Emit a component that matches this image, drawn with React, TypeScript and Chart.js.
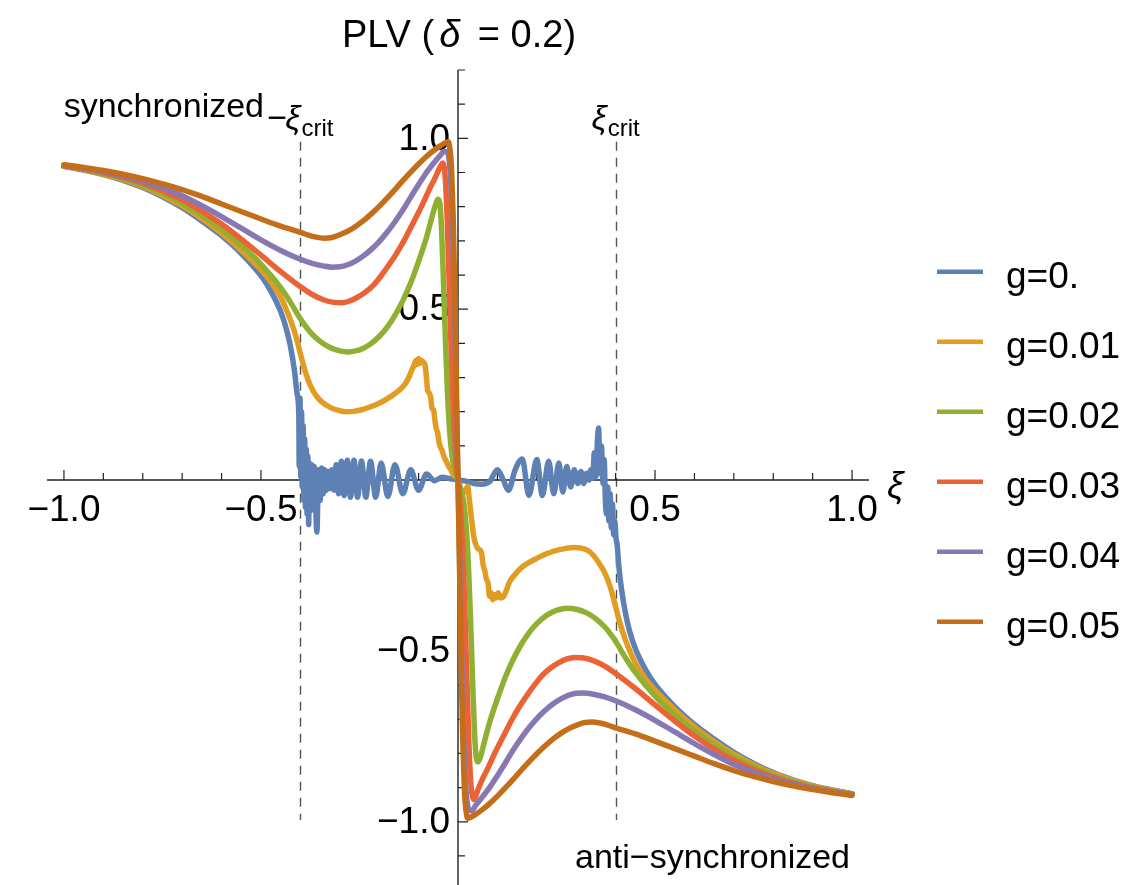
import React, { useEffect, useRef } from "react";
import { Chart, registerables } from "chart.js";

Chart.register(...registerables);

// ---------- data ----------
const seriesLabels = ["g=0.", "g=0.01", "g=0.02", "g=0.03", "g=0.04", "g=0.05"];
const seriesColors = ["#5E81B5", "#E19C24", "#8FB032", "#EB6235", "#8778B3", "#C56E1A"];

const g000Points: number[][] = [
  [-1.0, 0.918], [-0.95, 0.907], [-0.9, 0.894], [-0.85, 0.877], [-0.8, 0.856], [-0.75, 0.829],
  [-0.7, 0.797], [-0.65, 0.758], [-0.6, 0.715], [-0.55, 0.663], [-0.5, 0.598], [-0.475, 0.553],
  [-0.45, 0.493], [-0.435, 0.44], [-0.425, 0.39], [-0.415, 0.32], [-0.408, 0.25], [-0.404, 0.19],
  [-0.403, 0.04], [-0.401, 0.24], [-0.399, 0.01], [-0.397, 0.2],
  [-0.395, -0.02], [-0.393, 0.16], [-0.391, -0.06], [-0.389, 0.12], [-0.387, -0.08], [-0.385, 0.09],
  [-0.383, -0.1], [-0.381, 0.07], [-0.379, -0.13], [-0.377, 0.05], [-0.374, -0.09], [-0.371, 0.045],
  [-0.368, -0.06], [-0.365, 0.04], [-0.362, -0.05], [-0.358, -0.152], [-0.354, 0.03], [-0.35, -0.06],
  [-0.346, 0.035], [-0.342, -0.04], [-0.338, 0.03], [-0.334, -0.03], [-0.33, 0.025], [-0.325, -0.025],
  [-0.32, 0.03], [-0.315, -0.03], [-0.309, 0.045], [-0.303, -0.04], [-0.296, 0.055], [-0.289, -0.045],
  [-0.281, 0.058], [-0.273, -0.05], [-0.264, 0.058], [-0.255, -0.05], [-0.245, 0.056], [-0.234, -0.05],
  [-0.222, 0.055], [-0.209, -0.05], [-0.195, 0.05], [-0.178, -0.048], [-0.16, 0.045], [-0.14, -0.04],
  [-0.12, 0.03], [-0.1, -0.03], [-0.08, 0.018], [-0.06, -0.002], [-0.04, 0.008], [-0.02, 0.004],
  [0, 0], [0.02, -0.003], [0.04, -0.01], [0.06, -0.012], [0.08, -0.005], [0.1, 0.03], [0.115, 0.0],
  [0.128, -0.03], [0.145, 0.03], [0.163, 0.062], [0.18, -0.045], [0.2, 0.06], [0.214, -0.045],
  [0.23, 0.055], [0.243, -0.04], [0.256, 0.05], [0.266, -0.035], [0.276, 0.04], [0.286, -0.02],
  [0.295, 0.03], [0.304, -0.01], [0.312, 0.025], [0.319, -0.01], [0.326, 0.02], [0.332, 0.0],
  [0.337, 0.03], [0.342, 0.005], [0.346, 0.08], [0.35, 0.01], [0.354, 0.12], [0.357, 0.152],
  [0.36, 0.02], [0.364, 0.1], [0.368, -0.01], [0.371, 0.06], [0.374, -0.06], [0.377, -0.1],
  [0.38, -0.02], [0.383, -0.12], [0.386, -0.04], [0.389, -0.14], [0.392, -0.07], [0.395, -0.16],
  [0.398, -0.12], [0.401, -0.17], [0.404, -0.19], [0.408, -0.25], [0.415, -0.32], [0.425, -0.39],
  [0.435, -0.44], [0.45, -0.493], [0.475, -0.553], [0.5, -0.598], [0.55, -0.663], [0.6, -0.715],
  [0.65, -0.758], [0.7, -0.797], [0.75, -0.829], [0.8, -0.856], [0.85, -0.877], [0.9, -0.894],
  [0.95, -0.907], [1.0, -0.918],
];

const g001Points: number[][] = [
  [-1.0, 0.918], [-0.95, 0.908], [-0.9, 0.895], [-0.85, 0.879], [-0.8, 0.859], [-0.75, 0.833],
  [-0.7, 0.802], [-0.65, 0.765], [-0.6, 0.722], [-0.55, 0.672], [-0.5, 0.615], [-0.475, 0.58],
  [-0.45, 0.535], [-0.425, 0.468], [-0.41, 0.415], [-0.4, 0.37], [-0.387, 0.315], [-0.374, 0.275],
  [-0.36, 0.247], [-0.345, 0.228], [-0.323, 0.212], [-0.3, 0.203], [-0.285, 0.2], [-0.265, 0.201],
  [-0.247, 0.205], [-0.225, 0.213], [-0.2, 0.225], [-0.17, 0.245], [-0.15, 0.262], [-0.135, 0.28],
  [-0.125, 0.3], [-0.118, 0.32], [-0.112, 0.335], [-0.107, 0.35], [-0.104, 0.338], [-0.1, 0.356],
  [-0.096, 0.342], [-0.092, 0.35], [-0.088, 0.345], [-0.084, 0.338], [-0.08, 0.3], [-0.077, 0.262],
  [-0.073, 0.255], [-0.069, 0.24], [-0.066, 0.21], [-0.062, 0.205], [-0.058, 0.17], [-0.055, 0.15],
  [-0.052, 0.14], [-0.048, 0.11], [-0.044, 0.095], [-0.04, 0.085], [-0.036, 0.07], [-0.032, 0.06],
  [-0.028, 0.05], [-0.024, 0.04], [-0.018, 0.03], [-0.012, 0.015], [-0.006, 0.01], [0, 0],
  [0.004, -0.02], [0.01, -0.03], [0.016, -0.035], [0.021, -0.025], [0.025, -0.018], [0.028, -0.05],
  [0.032, -0.09], [0.036, -0.13], [0.04, -0.165], [0.044, -0.185], [0.05, -0.2], [0.056, -0.205],
  [0.06, -0.215], [0.064, -0.25], [0.068, -0.265], [0.072, -0.29], [0.076, -0.3], [0.08, -0.34],
  [0.084, -0.33], [0.088, -0.35], [0.092, -0.335], [0.097, -0.345], [0.102, -0.33], [0.108, -0.345],
  [0.116, -0.34], [0.122, -0.325], [0.13, -0.3], [0.14, -0.283], [0.159, -0.258], [0.175, -0.245],
  [0.192, -0.234], [0.226, -0.215], [0.26, -0.203], [0.293, -0.197], [0.328, -0.205], [0.345, -0.222],
  [0.36, -0.247], [0.374, -0.275], [0.387, -0.315], [0.4, -0.37], [0.41, -0.415], [0.425, -0.468],
  [0.45, -0.535], [0.475, -0.58], [0.5, -0.615], [0.55, -0.672], [0.6, -0.722], [0.65, -0.765],
  [0.7, -0.802], [0.75, -0.833], [0.8, -0.859], [0.85, -0.879], [0.9, -0.895], [0.95, -0.908],
  [1.0, -0.918],
];

const g002Points: number[][] = [
  [-1.0, 0.918], [-0.95, 0.909], [-0.9, 0.897], [-0.85, 0.882], [-0.8, 0.863], [-0.75, 0.839],
  [-0.7, 0.81], [-0.65, 0.775], [-0.6, 0.734], [-0.55, 0.687], [-0.5, 0.632], [-0.45, 0.563],
  [-0.425, 0.52], [-0.4, 0.472], [-0.375, 0.433], [-0.35, 0.406], [-0.325, 0.388], [-0.3, 0.378],
  [-0.28, 0.375], [-0.26, 0.378], [-0.24, 0.386], [-0.22, 0.4], [-0.2, 0.42], [-0.18, 0.447],
  [-0.16, 0.482], [-0.14, 0.525], [-0.12, 0.577], [-0.1, 0.64], [-0.08, 0.71], [-0.066, 0.77],
  [-0.057, 0.805], [-0.051, 0.822], [-0.046, 0.81], [-0.042, 0.74], [-0.038, 0.62], [-0.034, 0.48],
  [-0.03, 0.35], [-0.026, 0.24], [-0.021, 0.14], [-0.015, 0.07], [-0.008, 0.03], [0, 0],
  [0.008, -0.03], [0.015, -0.07], [0.021, -0.14], [0.026, -0.24], [0.03, -0.35], [0.034, -0.48],
  [0.038, -0.62], [0.042, -0.74], [0.046, -0.81], [0.051, -0.825], [0.057, -0.81], [0.066, -0.77],
  [0.08, -0.71], [0.1, -0.64], [0.12, -0.577], [0.14, -0.525], [0.16, -0.482], [0.18, -0.447],
  [0.2, -0.42], [0.22, -0.4], [0.24, -0.386], [0.26, -0.378], [0.28, -0.375], [0.3, -0.378],
  [0.325, -0.388], [0.35, -0.406], [0.375, -0.433], [0.4, -0.472], [0.425, -0.52], [0.45, -0.563],
  [0.5, -0.632], [0.55, -0.687], [0.6, -0.734], [0.65, -0.775], [0.7, -0.81], [0.75, -0.839],
  [0.8, -0.863], [0.85, -0.882], [0.9, -0.897], [0.95, -0.909], [1.0, -0.918],
];

const g003Points: number[][] = [
  [-1.0, 0.92], [-0.95, 0.911], [-0.9, 0.9], [-0.85, 0.886], [-0.8, 0.869], [-0.75, 0.847],
  [-0.7, 0.82], [-0.65, 0.787], [-0.6, 0.749], [-0.55, 0.705], [-0.5, 0.658], [-0.45, 0.61],
  [-0.4, 0.566], [-0.37, 0.543], [-0.34, 0.527], [-0.315, 0.52], [-0.295, 0.519], [-0.275, 0.524],
  [-0.255, 0.535], [-0.235, 0.55], [-0.215, 0.57], [-0.195, 0.598], [-0.175, 0.63], [-0.155, 0.665],
  [-0.135, 0.705], [-0.115, 0.75], [-0.095, 0.795], [-0.075, 0.845], [-0.06, 0.88], [-0.05, 0.905],
  [-0.043, 0.922], [-0.039, 0.928], [-0.035, 0.915], [-0.031, 0.86], [-0.027, 0.75], [-0.023, 0.6],
  [-0.019, 0.44], [-0.015, 0.3], [-0.011, 0.18], [-0.006, 0.08], [0, 0],
  [0.006, -0.08], [0.011, -0.18], [0.015, -0.3], [0.019, -0.44], [0.023, -0.6], [0.027, -0.75],
  [0.031, -0.86], [0.035, -0.915], [0.04, -0.935], [0.045, -0.926], [0.05, -0.908], [0.06, -0.88],
  [0.075, -0.845], [0.095, -0.795], [0.115, -0.75], [0.135, -0.705], [0.155, -0.665], [0.175, -0.63],
  [0.195, -0.598], [0.215, -0.57], [0.235, -0.55], [0.255, -0.535], [0.275, -0.524], [0.295, -0.519],
  [0.315, -0.52], [0.34, -0.527], [0.37, -0.543], [0.4, -0.566], [0.45, -0.61], [0.5, -0.658],
  [0.55, -0.705], [0.6, -0.749], [0.65, -0.787], [0.7, -0.82], [0.75, -0.847], [0.8, -0.869],
  [0.85, -0.886], [0.9, -0.9], [0.95, -0.911], [1.0, -0.92],
];

const g004Points: number[][] = [
  [-1.0, 0.921], [-0.95, 0.913], [-0.9, 0.903], [-0.85, 0.89], [-0.8, 0.875], [-0.75, 0.855],
  [-0.7, 0.832], [-0.65, 0.803], [-0.6, 0.771], [-0.55, 0.737], [-0.5, 0.703], [-0.45, 0.672],
  [-0.4, 0.646], [-0.37, 0.634], [-0.34, 0.626], [-0.32, 0.623], [-0.3, 0.624], [-0.28, 0.63],
  [-0.26, 0.641], [-0.24, 0.656], [-0.22, 0.675], [-0.2, 0.698], [-0.18, 0.725], [-0.16, 0.756],
  [-0.14, 0.79], [-0.12, 0.828], [-0.1, 0.865], [-0.08, 0.9], [-0.06, 0.93], [-0.045, 0.95],
  [-0.035, 0.962], [-0.028, 0.96], [-0.022, 0.93], [-0.017, 0.84], [-0.013, 0.7], [-0.009, 0.5],
  [-0.005, 0.28], [-0.002, 0.1], [0, 0],
  [0.002, -0.1], [0.005, -0.28], [0.009, -0.5], [0.013, -0.7], [0.017, -0.84], [0.022, -0.93],
  [0.028, -0.965], [0.034, -0.968], [0.045, -0.952], [0.06, -0.93], [0.08, -0.9], [0.1, -0.865],
  [0.12, -0.828], [0.14, -0.79], [0.16, -0.756], [0.18, -0.725], [0.2, -0.698], [0.22, -0.675],
  [0.24, -0.656], [0.26, -0.641], [0.28, -0.63], [0.3, -0.624], [0.32, -0.623], [0.34, -0.626],
  [0.37, -0.634], [0.4, -0.646], [0.45, -0.672], [0.5, -0.703], [0.55, -0.737], [0.6, -0.771],
  [0.65, -0.803], [0.7, -0.832], [0.75, -0.855], [0.8, -0.875], [0.85, -0.89], [0.9, -0.903],
  [0.95, -0.913], [1.0, -0.921],
];

const g005Points: number[][] = [
  [-1.0, 0.923], [-0.95, 0.915], [-0.9, 0.906], [-0.85, 0.895], [-0.8, 0.882], [-0.75, 0.867],
  [-0.7, 0.85], [-0.65, 0.83], [-0.6, 0.808], [-0.55, 0.786], [-0.5, 0.764], [-0.45, 0.743],
  [-0.4, 0.725], [-0.38, 0.717], [-0.36, 0.711], [-0.34, 0.708], [-0.32, 0.71], [-0.3, 0.718],
  [-0.28, 0.728], [-0.26, 0.742], [-0.24, 0.759], [-0.22, 0.779], [-0.2, 0.801], [-0.18, 0.825],
  [-0.16, 0.85], [-0.14, 0.876], [-0.12, 0.901], [-0.1, 0.925], [-0.08, 0.947], [-0.06, 0.966],
  [-0.045, 0.978], [-0.032, 0.987], [-0.025, 0.99], [-0.02, 0.965], [-0.016, 0.9], [-0.012, 0.76],
  [-0.008, 0.54], [-0.004, 0.27], [0, 0],
  [0.004, -0.27], [0.008, -0.54], [0.012, -0.76], [0.016, -0.9], [0.02, -0.965], [0.025, -0.99],
  [0.032, -0.987], [0.045, -0.978], [0.06, -0.966], [0.08, -0.947], [0.1, -0.925], [0.12, -0.901],
  [0.14, -0.876], [0.16, -0.85], [0.18, -0.825], [0.2, -0.801], [0.22, -0.779], [0.24, -0.759],
  [0.26, -0.742], [0.28, -0.728], [0.3, -0.718], [0.32, -0.71], [0.34, -0.708], [0.36, -0.711],
  [0.38, -0.717], [0.4, -0.725], [0.45, -0.743], [0.5, -0.764], [0.55, -0.786], [0.6, -0.808],
  [0.65, -0.83], [0.7, -0.85], [0.75, -0.867], [0.8, -0.882], [0.85, -0.895], [0.9, -0.906],
  [0.95, -0.915], [1.0, -0.923],
];

const seriesPoints = [g000Points, g001Points, g002Points, g003Points, g004Points, g005Points];

const xRange = [-1.043, 1.043];
const yRange = [-1.185, 1.2];
const xMajorTicks = [-1, -0.5, 0.5, 1];
const xTickLabels = ["\u22121.0", "\u22120.5", "0.5", "1.0"];
const xMinorTicks = [-0.9, -0.8, -0.7, -0.6, -0.4, -0.3, -0.2, -0.1, 0.1, 0.2, 0.3, 0.4, 0.6, 0.7, 0.8, 0.9];
const yMajorTicks = [-1, -0.5, 0.5, 1];
const yTickLabels = ["\u22121.0", "\u22120.5", "0.5", "1.0"];
const yMinorTicks = [-1.1, -0.9, -0.8, -0.7, -0.6, -0.4, -0.3, -0.2, -0.1, 0.1, 0.2, 0.3, 0.4, 0.6, 0.7, 0.8, 0.9, 1.1, 1.2];
const critValues = [-0.4, 0.4];
const critSpan = [-0.995, 0.99];

const FONT = '"Liberation Sans", Arial, Helvetica, sans-serif';

type Part = { t: string; font: string; dy?: number; gap?: number };

function drawParts(ctx: CanvasRenderingContext2D, parts: Part[], cx: number, baseY: number, align: "center" | "left" | "right") {
  let total = 0;
  const widths = parts.map((p) => {
    ctx.font = p.font;
    const w = ctx.measureText(p.t).width + (p.gap || 0);
    total += w;
    return w;
  });
  let x = align === "center" ? cx - total / 2 : align === "right" ? cx - total : cx;
  ctx.textAlign = "left";
  ctx.textBaseline = "alphabetic";
  parts.forEach((p, i) => {
    ctx.font = p.font;
    ctx.fillText(p.t, x, baseY + (p.dy || 0));
    x += widths[i];
  });
}

const plvPlugin = {
  id: "plvAxes",
  beforeDatasetsDraw(chart: any) {
    const { ctx, chartArea } = chart;
    const xs = chart.scales.x;
    const ys = chart.scales.y;
    const x0 = xs.getPixelForValue(0);
    const y0 = ys.getPixelForValue(0);
    ctx.save();
    // dashed critical lines
    ctx.strokeStyle = "#555";
    ctx.lineWidth = 1.4;
    ctx.setLineDash([9, 7]);
    for (const c of critValues) {
      const px = Math.round(xs.getPixelForValue(c)) + 0.5;
      ctx.beginPath();
      ctx.moveTo(px, ys.getPixelForValue(critSpan[1]));
      ctx.lineTo(px, ys.getPixelForValue(critSpan[0]));
      ctx.stroke();
    }
    ctx.setLineDash([]);
    // axes
    ctx.strokeStyle = "#222";
    ctx.lineWidth = 1.4;
    ctx.beginPath();
    ctx.moveTo(chartArea.left, y0);
    ctx.lineTo(chartArea.right, y0);
    ctx.moveTo(x0, chartArea.top);
    ctx.lineTo(x0, chartArea.bottom);
    ctx.stroke();
    // ticks
    ctx.lineWidth = 1.2;
    ctx.beginPath();
    for (const t of xMajorTicks) {
      const px = xs.getPixelForValue(t);
      ctx.moveTo(px, y0);
      ctx.lineTo(px, y0 - 10);
    }
    for (const t of xMinorTicks) {
      const px = xs.getPixelForValue(t);
      ctx.moveTo(px, y0);
      ctx.lineTo(px, y0 - 7);
    }
    for (const t of yMajorTicks) {
      const py = ys.getPixelForValue(t);
      ctx.moveTo(x0, py);
      ctx.lineTo(x0 + 10, py);
    }
    for (const t of yMinorTicks) {
      const py = ys.getPixelForValue(t);
      ctx.moveTo(x0, py);
      ctx.lineTo(x0 + 7, py);
    }
    ctx.stroke();
    // tick labels
    ctx.fillStyle = "#000";
    ctx.font = `37px ${FONT}`;
    ctx.textAlign = "center";
    ctx.textBaseline = "alphabetic";
    xMajorTicks.forEach((t, i) => {
      ctx.fillText(xTickLabels[i], xs.getPixelForValue(t), y0 + 41);
    });
    ctx.textAlign = "right";
    ctx.textBaseline = "middle";
    yMajorTicks.forEach((t, i) => {
      ctx.fillText(yTickLabels[i], x0 - 8, ys.getPixelForValue(t) + 1);
    });
    ctx.restore();
  },
  afterDraw(chart: any) {
    const { ctx } = chart;
    const xs = chart.scales.x;
    const ys = chart.scales.y;
    const x0 = xs.getPixelForValue(0);
    const y0 = ys.getPixelForValue(0);
    ctx.save();
    ctx.fillStyle = "#000";
    const normal = `37px ${FONT}`;
    const italic = `italic 37px ${FONT}`;
    const titleN = `38px ${FONT}`;
    const titleI = `italic 38px ${FONT}`;
    // title
    drawParts(
      ctx,
      [
        { t: "PLV (", font: titleN, gap: 5 },
        { t: "\u03B4", font: titleI, gap: 7 },
        { t: " = 0.2)", font: titleN },
      ],
      x0 + 1,
      47,
      "center"
    );
    // x axis label
    ctx.font = italic;
    ctx.textAlign = "left";
    ctx.textBaseline = "alphabetic";
    ctx.fillText("\u03BE", chart.chartArea.right + 18, y0 + 18);
    // annotations
    const ann = `34px ${FONT}`;
    const annI = `italic 34px ${FONT}`;
    const sub = `24px ${FONT}`;
    ctx.font = ann;
    ctx.textAlign = "right";
    ctx.fillText("synchronized", 264, 117);
    drawParts(
      ctx,
      [
        { t: "\u2212", font: ann, gap: -2 },
        { t: "\u03BE", font: annI, gap: 1 },
        { t: "crit", font: sub, dy: 7 },
      ],
      xs.getPixelForValue(critValues[0]),
      129,
      "center"
    );
    drawParts(
      ctx,
      [
        { t: "\u03BE", font: annI, gap: 1 },
        { t: "crit", font: sub, dy: 7 },
      ],
      xs.getPixelForValue(critValues[1]),
      129,
      "center"
    );
    ctx.font = ann;
    ctx.textAlign = "left";
    ctx.fillText("anti\u2212synchronized", 575, 868);
    // legend
    chart.data.datasets.forEach((ds: any, i: number) => {
      const ly = 271.7 + 70 * i;
      ctx.strokeStyle = ds.borderColor;
      ctx.lineWidth = 4.5;
      ctx.beginPath();
      ctx.moveTo(937, ly);
      ctx.lineTo(983, ly);
      ctx.stroke();
      ctx.font = normal;
      ctx.textAlign = "left";
      ctx.textBaseline = "alphabetic";
      ctx.fillStyle = "#000";
      ctx.fillText(ds.label, 1006, ly + 16);
    });
    ctx.restore();
  },
};

export default function App() {
  const canvasRef = useRef<HTMLCanvasElement | null>(null);

  useEffect(() => {
    const canvas = canvasRef.current;
    if (!canvas) return;
    const chart = new Chart(canvas, {
      type: "line",
      data: {
        datasets: seriesPoints.map((pts, i) => ({
          label: seriesLabels[i],
          data: pts.map((p) => ({ x: p[0], y: p[1] })),
          borderColor: seriesColors[i],
          backgroundColor: seriesColors[i],
          borderWidth: 5.5,
          pointRadius: 0,
          fill: false,
          cubicInterpolationMode: "monotone" as const,
          borderJoinStyle: "round" as const,
          borderCapStyle: "round" as const,
          order: seriesPoints.length - i,
        })),
      },
      options: {
        animation: false,
        responsive: false,
        devicePixelRatio: 1,
        events: [],
        layout: { padding: { left: 47, right: 266, top: 70, bottom: 0 } },
        plugins: {
          legend: { display: false },
          tooltip: { enabled: false },
          title: { display: false },
        },
        scales: {
          x: { type: "linear", min: xRange[0], max: xRange[1], display: false },
          y: { type: "linear", min: yRange[0], max: yRange[1], display: false },
        },
      },
      plugins: [plvPlugin],
    });
    return () => chart.destroy();
  }, []);

  return (
    <div style={{ position: "fixed", left: 0, top: 0, width: 1135, height: 885, background: "#fff" }}>
      <canvas ref={canvasRef} width={1135} height={885} style={{ display: "block" }} />
    </div>
  );
}
